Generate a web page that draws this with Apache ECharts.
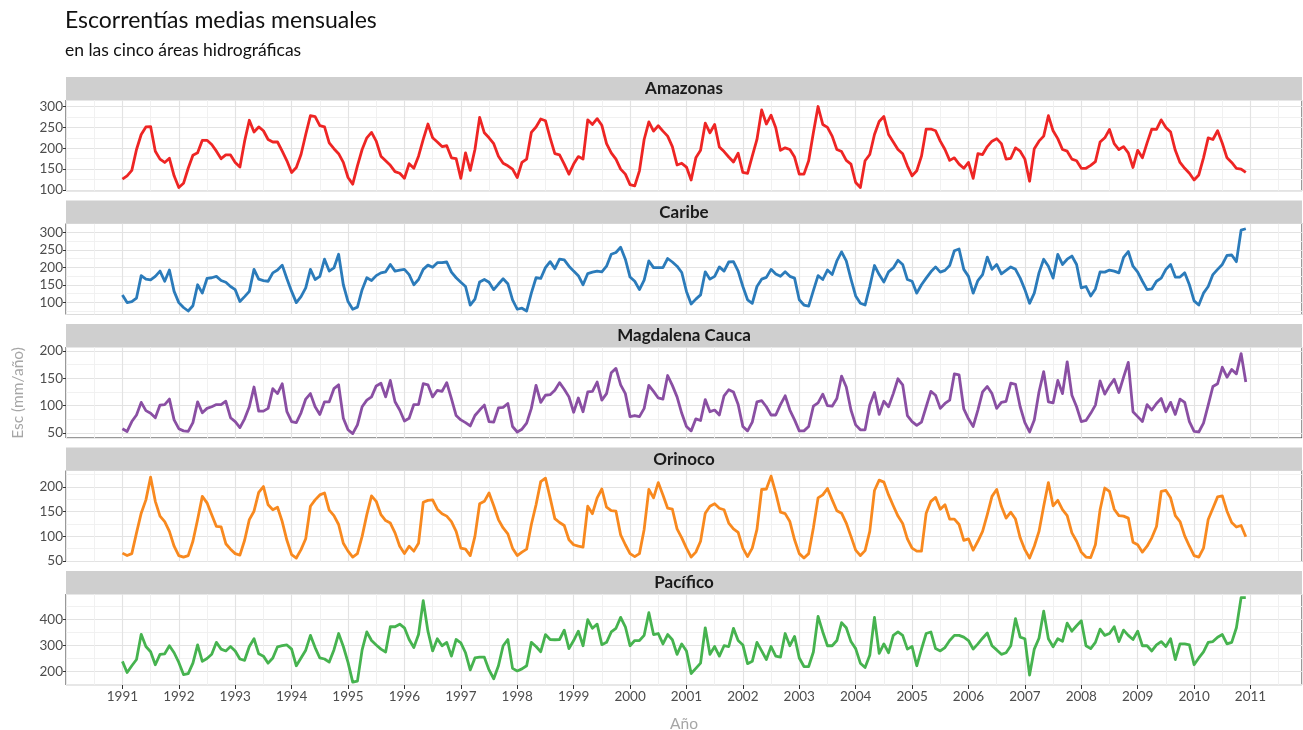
<!DOCTYPE html>
<html><head><meta charset="utf-8">
<script src="https://cdn.jsdelivr.net/npm/echarts@6/dist/echarts.min.js"></script>
<style>html,body{margin:0;padding:0;background:#fff}#c{width:1303px;height:730px}</style>
</head><body><div id="c"></div>
<script>
const years = [1991,1992,1993,1994,1995,1996,1997,1998,1999,2000,2001,2002,2003,2004,2005,2006,2007,2008,2009,2010];
const xTickLabels = [1991,1992,1993,1994,1995,1996,1997,1998,1999,2000,2001,2002,2003,2004,2005,2006,2007,2008,2009,2010,2011];
const panelNames = ['Amazonas','Caribe','Magdalena Cauca','Orinoco','Pacífico'];

const amazonas = [
126,134,147,197,233,251,252,193,174,166,176,134,
106,116,152,183,189,219,219,209,193,175,184,184,
166,155,217,267,239,251,242,221,215,215,193,170,
142,154,185,233,278,276,254,251,213,199,187,166,
130,114,158,197,225,238,217,181,170,159,144,140,
128,163,152,181,221,258,225,215,204,206,177,175,
128,189,147,197,274,237,225,211,181,164,158,150,
130,166,174,238,251,270,266,225,187,184,162,138,
162,180,174,268,257,271,255,211,189,174,150,138,
113,110,146,221,263,241,254,241,229,204,160,164,
155,124,177,195,260,237,257,203,192,179,167,188,
142,140,181,221,292,258,279,249,195,201,197,179,
138,138,170,237,300,257,250,229,197,192,171,162,
118,106,170,185,233,264,276,233,215,197,187,158,
134,146,181,246,246,242,217,197,171,177,162,152,
166,128,187,185,204,217,223,211,174,176,201,193,
174,121,199,217,229,278,242,223,197,193,174,170,
152,152,159,168,215,225,245,211,197,204,189,154,
195,177,213,246,245,268,250,239,195,166,152,140,
124,136,177,225,221,242,212,177,166,152,150,142];

const caribe = [
121,99,102,112,176,166,164,174,189,160,192,131,
99,85,75,90,150,126,168,170,174,162,157,145,
136,102,116,131,194,166,162,160,184,192,206,167,
131,99,116,141,194,165,174,223,189,198,237,150,
102,80,86,136,170,162,176,184,187,208,189,192,
194,179,150,165,194,206,200,213,213,215,186,170,
157,145,92,109,158,165,157,136,152,167,153,107,
80,83,75,126,170,168,199,216,196,223,221,203,
189,176,150,182,186,189,187,203,237,242,257,223,
172,160,136,163,218,199,199,199,225,215,203,185,
131,95,109,121,187,166,174,201,189,215,216,189,
145,107,97,145,166,171,194,181,174,187,174,169,
107,92,89,133,176,165,192,179,218,244,218,166,
118,97,92,145,205,179,158,187,198,220,208,165,
160,126,150,169,187,201,186,191,205,247,252,194,
174,126,162,179,229,194,208,181,191,201,194,169,
136,97,126,184,223,203,169,237,208,223,232,208,
141,145,118,138,187,186,192,189,184,228,245,203,
186,160,136,138,160,169,194,208,172,172,184,150,
104,92,126,145,179,194,208,234,235,216,306,310];

const magdalena = [
58,53,71,83,106,91,86,78,101,102,112,74,
58,54,53,69,107,87,95,98,102,102,108,78,
71,60,76,98,134,90,90,95,131,122,140,89,
71,69,87,112,122,98,84,107,107,131,138,77,
56,49,65,98,110,116,136,141,116,146,107,92,
72,77,102,102,140,138,116,128,126,142,113,82,
74,69,63,82,92,101,71,70,96,97,104,62,
52,57,68,95,137,106,119,120,128,142,130,116,
88,114,89,125,126,143,110,122,160,168,138,122,
80,82,80,95,137,126,114,112,155,137,116,86,
62,54,76,73,111,89,92,83,118,129,125,102,
62,54,70,107,109,98,83,83,102,118,92,74,
54,54,62,99,105,121,100,99,113,154,134,92,
65,56,56,101,124,84,108,98,122,149,138,82,
71,64,70,98,126,119,95,104,110,158,156,94,
76,62,92,125,135,122,95,106,108,141,139,98,
69,52,74,125,162,107,105,146,122,180,119,98,
71,73,86,101,145,121,136,148,124,152,179,89,
80,71,102,92,104,113,89,106,84,112,106,71,
53,52,68,101,135,140,170,152,166,158,195,143];

const orinoco = [
66,61,65,107,147,174,220,171,141,130,110,80,
61,58,61,90,134,181,168,144,120,119,85,74,
65,62,92,134,151,189,201,164,154,159,130,92,
63,56,73,95,161,174,184,188,153,142,124,86,
70,58,65,100,144,182,171,144,132,127,107,80,
65,80,70,86,169,173,174,155,146,141,130,110,
76,74,61,100,166,171,188,162,134,117,105,76,
61,68,74,124,164,211,218,178,136,128,122,93,
83,80,78,161,146,178,196,159,152,151,103,83,
65,59,65,114,195,178,209,184,157,155,115,97,
76,58,68,90,147,161,166,157,154,127,115,108,
76,59,76,114,195,196,222,188,149,146,130,93,
65,56,65,117,178,184,197,174,152,147,127,100,
72,61,71,110,193,214,210,184,162,141,126,95,
76,70,70,147,171,179,155,164,135,135,124,92,
95,72,90,110,144,181,195,161,137,149,135,97,
73,56,80,110,161,209,162,173,154,142,107,90,
68,58,57,83,154,198,191,155,142,141,137,88,
83,68,80,97,120,191,193,178,142,130,101,80,
61,58,76,134,157,180,182,151,128,119,122,99];

const pacifico = [
240,197,223,247,344,297,277,227,267,269,300,273,
236,189,193,233,303,240,251,267,313,287,280,297,
280,249,244,297,327,269,260,233,253,296,300,303,
287,223,253,283,340,293,253,249,237,284,347,297,
236,160,164,284,353,320,303,287,276,373,373,383,
369,324,293,343,473,356,280,327,300,313,260,324,
311,273,207,253,256,256,207,173,223,300,324,213,
203,211,223,313,297,277,343,324,323,324,360,289,
320,356,300,400,367,383,304,313,353,367,409,373,
300,320,320,340,427,343,347,307,343,323,267,307,
280,193,213,233,369,267,297,260,300,297,367,320,
303,231,240,313,280,247,297,260,256,347,300,336,
253,220,220,276,413,353,300,300,320,389,369,316,
289,233,216,263,409,271,307,273,340,353,340,287,
297,223,287,347,353,289,280,293,320,340,340,333,
320,287,307,329,349,300,284,267,273,300,404,333,
327,187,287,329,433,327,296,327,317,387,356,377,
396,300,289,313,364,340,347,373,316,360,340,324,
356,300,300,280,303,316,297,327,247,307,307,303,
227,253,276,313,316,333,343,307,313,369,485,485];

const yTickLabels = [
  [100,150,200,250,300],
  [100,150,200,250,300],
  [50,100,150,200],
  [50,100,150,200],
  [200,300,400]
];

const seriesValues = [amazonas, caribe, magdalena, orinoco, pacifico];
const colors = ['#ee2524','#2b7bba','#8a4fa3','#f8891f','#46b34f'];
const yRange = [[97.6,315.6],[65,325],[41,207],[49,233.5],[149,499]];
const yStep = [50,50,50,50,100];

const LEFT = 66, WIDTH = 1236, PH = 91, SH = 23;
const stripTops = [77, 200.5, 324, 447.5, 571];
const XMIN = 1990.0, XMAX = 2011.913;

function toPoints(vals){
  const pts = [];
  years.forEach((y, yi) => {
    for (let m = 0; m < 12; m++) pts.push([y + m/12, vals[yi*12 + m]]);
  });
  return pts;
}

const grid = [], xAxis = [], yAxis = [], series = [], graphic = [];
const font = 'Lato';
for (let i = 0; i < 5; i++) {
  const top = stripTops[i] + SH;
  grid.push({left: LEFT, top: top, width: WIDTH, height: PH, show: true,
    borderColor: '#333', borderWidth: 1, backgroundColor: 'transparent'});
  xAxis.push({gridIndex: i, type: 'value', min: XMIN, max: XMAX, interval: 0.5, position: 'top',
    axisLine: {show: false}, axisTick: {show: false}, axisLabel: {show: false},
    splitLine: {show: true, lineStyle: {color: '#efefef', width: 0.9}}});
  xAxis.push({gridIndex: i, type: 'value', min: XMIN, max: XMAX, interval: 1, position: 'bottom',
    axisLine: {show: false},
    axisTick: {show: i === 4, customValues: xTickLabels, length: 4, lineStyle: {color: '#333', width: 1}},
    axisLabel: {show: i === 4, customValues: xTickLabels, formatter: v => String(Math.round(v)),
      color: '#4d4d4d', fontSize: 13.5, fontFamily: font, margin: 5},
    splitLine: {show: true, lineStyle: {color: '#e3e3e3', width: 1.2}}});
  const [mn, mx] = yRange[i];
  yAxis.push({gridIndex: i, type: 'value', min: mn, max: mx, position: 'right',
    minInterval: yStep[i]/2, maxInterval: yStep[i]/2,
    axisLine: {show: false}, axisTick: {show: false}, axisLabel: {show: false},
    splitLine: {show: true, lineStyle: {color: '#efefef', width: 0.9}}});
  yAxis.push({gridIndex: i, type: 'value', min: mn, max: mx, position: 'left',
    minInterval: yStep[i], maxInterval: yStep[i],
    axisLine: {show: false},
    axisTick: {show: true, customValues: yTickLabels[i], length: 3, lineStyle: {color: '#333', width: 1}},
    axisLabel: {customValues: yTickLabels[i], color: '#4d4d4d', fontSize: 13.5, fontFamily: font, margin: 3},
    splitLine: {show: true, lineStyle: {color: '#e3e3e3', width: 1.2}}});
  series.push({type: 'line', name: panelNames[i], xAxisIndex: 2*i+1, yAxisIndex: 2*i+1,
    data: toPoints(seriesValues[i]), showSymbol: false, symbol: 'none',
    lineStyle: {color: colors[i], width: 2.8, join: 'round'}, itemStyle: {color: colors[i]},
    silent: true, z: 5});
  graphic.push({type: 'rect', shape: {x: LEFT, y: stripTops[i], width: WIDTH, height: SH},
    style: {fill: '#cfcfcf'}, z: 1});
  graphic.push({type: 'text', x: LEFT + WIDTH/2, y: stripTops[i] + SH/2 + 0.5,
    style: {text: panelNames[i], align: 'center', verticalAlign: 'middle',
      font: 'bold 17px Lato', fill: '#1a1a1a'}, z: 2});
}
graphic.push({type: 'text', x: 65, y: 21, style: {text: 'Escorrentías medias mensuales',
  align: 'left', verticalAlign: 'middle', font: '23px Lato', fill: '#111'}});
graphic.push({type: 'text', x: 65, y: 50, style: {text: 'en las cinco áreas hidrográficas',
  align: 'left', verticalAlign: 'middle', font: '17.5px Lato', fill: '#111'}});
graphic.push({type: 'text', x: 18, y: 393, rotation: Math.PI/2, style: {text: 'Esc (mm/año)',
  align: 'center', verticalAlign: 'middle', font: '15.5px Lato', fill: '#a6a6a6'}});
graphic.push({type: 'text', x: 684, y: 724, style: {text: 'Año',
  align: 'center', verticalAlign: 'middle', font: '15.5px Lato', fill: '#a6a6a6'}});

const chart = echarts.init(document.getElementById('c'), null, {renderer: 'canvas'});
chart.setOption({animation: false, backgroundColor: '#fff', grid, xAxis, yAxis, series, graphic});
</script></body></html>
